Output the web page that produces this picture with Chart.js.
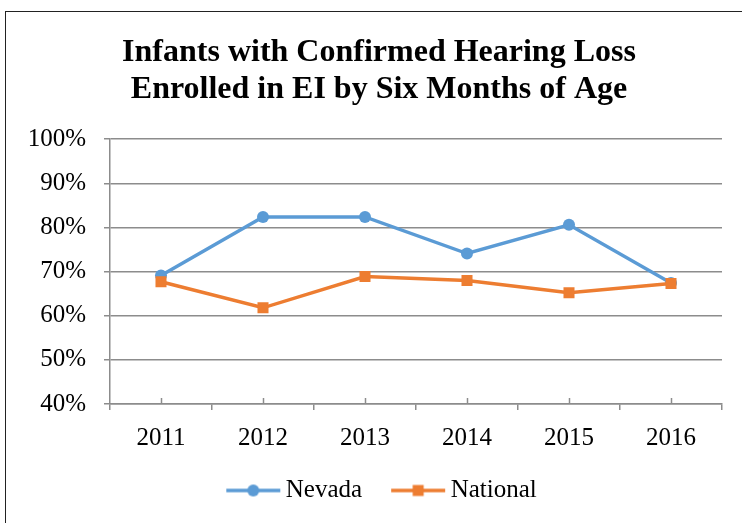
<!DOCTYPE html>
<html>
<head>
<meta charset="utf-8">
<script src="https://cdn.jsdelivr.net/npm/chart.js@4/dist/chart.umd.min.js"></script>
<style>
  body { margin: 0; background: #fff; }
  #frame { position: absolute; left: 5px; top: 11px; width: 900px; height: 700px; border: 1.5px solid #222; }
  #wrap { position: absolute; left: 0; top: 0; width: 742px; height: 523px; }
</style>
</head>
<body>
<div id="frame"></div>
<div id="wrap"><canvas id="chart" width="742" height="523"></canvas></div>
<script>
// data
const years = ['2011', '2012', '2013', '2014', '2015', '2016'];
const nevada = [69.1, 82.4, 82.4, 74.1, 80.6, 67.4];
const national = [67.7, 61.8, 68.9, 68.0, 65.2, 67.3];
const yTicks = [40, 50, 60, 70, 80, 90, 100];

const blue = '#5B9BD5';
const orange = '#ED7D31';
const gridColor = '#8c8c8c';
const serif = "'Liberation Serif', 'DejaVu Serif', serif";

// legend icons: line with marker, drawn in the right part of a wider canvas
// so the gap before each item is larger than the gap before its text
function legendIcon(color, shape) {
  const c = document.createElement('canvas');
  c.width = 82; c.height = 16;
  const g = c.getContext('2d');
  g.strokeStyle = color;
  g.lineWidth = 3.5;
  g.beginPath(); g.moveTo(27, 8); g.lineTo(81, 8); g.stroke();
  g.fillStyle = color;
  if (shape === 'circle') {
    g.beginPath(); g.arc(54, 8, 6, 0, Math.PI * 2); g.fill();
  } else {
    g.fillRect(48.5, 2.5, 11, 11);
  }
  return c;
}
const icons = [legendIcon(blue, 'circle'), legendIcon(orange, 'rect')];

// small tick marks above the x axis at each category
const centerTicks = {
  id: 'centerTicks',
  afterDraw(chart) {
    const x = chart.scales.x;
    const g = chart.ctx;
    g.save();
    g.strokeStyle = gridColor;
    g.lineWidth = 1.5;
    years.forEach((_, i) => {
      const px = Math.round(x.getPixelForTick(i)) + 0.5;
      g.beginPath(); g.moveTo(px, x.top); g.lineTo(px, x.top - 6); g.stroke();
    });
    g.restore();
  }
};

// nudge title and legend to sit where they are in the original
const nudge = {
  id: 'nudge',
  afterLayout(chart) {
    chart.titleBlock.left += 13;
    chart.titleBlock.right += 13;
    chart.legend.left += 6;
    chart.legend.right += 6;
    chart.legend.top += 2;
    chart.legend.bottom += 2;
  }
};

new Chart(document.getElementById('chart'), {
  type: 'line',
  data: {
    labels: years,
    datasets: [{
      label: 'Nevada',
      data: nevada,
      borderColor: blue,
      backgroundColor: blue,
      borderWidth: 3.5,
      pointStyle: 'circle',
      pointRadius: 6,
      pointBorderWidth: 0,
      order: 1
    }, {
      label: 'National',
      data: national,
      borderColor: orange,
      backgroundColor: orange,
      borderWidth: 3.5,
      pointStyle: 'rect',
      pointRadius: 7.8,
      pointBorderWidth: 0,
      order: 0
    }]
  },
  options: {
    responsive: false,
    animation: false,
    layout: { padding: { left: 10, right: 20, top: 34, bottom: 12 } },
    scales: {
      x: {
        offset: true,
        afterFit: s => { s.height = 62; },
        grid: { offset: true, drawOnChartArea: false, tickLength: 6, color: gridColor, lineWidth: 1.5 },
        border: { color: gridColor, width: 1.5 },
        ticks: { color: '#000', padding: 13, font: { family: serif, size: 25 } }
      },
      y: {
        min: 40,
        max: 100,
        afterFit: s => { s.width = 100; },
        afterBuildTicks: s => { s.ticks = yTicks.map(v => ({ value: v })); },
        grid: { color: gridColor, lineWidth: 1.5, tickLength: 6 },
        border: { color: gridColor, width: 1.5 },
        ticks: { color: '#000', padding: 18, font: { family: serif, size: 25 }, callback: v => v + '%' }
      }
    },
    plugins: {
      title: {
        display: true,
        text: ['Infants with Confirmed Hearing Loss', 'Enrolled in EI by Six Months of Age'],
        color: '#000',
        font: { family: serif, size: 32, weight: 'bold', lineHeight: 1.16 },
        padding: { top: 0, bottom: 31 }
      },
      legend: {
        position: 'bottom',
        labels: {
          usePointStyle: true,
          pointStyleWidth: 66,
          padding: 10,
          color: '#000',
          font: { family: serif, size: 25 },
          sort: (a, b) => a.datasetIndex - b.datasetIndex,
          generateLabels: chart => {
            const items = Chart.defaults.plugins.legend.labels.generateLabels(chart);
            items.forEach(it => { it.pointStyle = icons[it.datasetIndex]; });
            return items;
          }
        }
      },
      tooltip: { enabled: false }
    }
  },
  plugins: [centerTicks, nudge]
});
</script>
</body>
</html>
